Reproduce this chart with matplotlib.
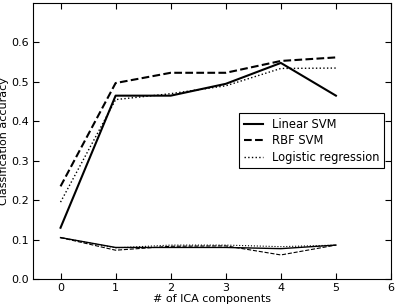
import matplotlib
matplotlib.use('Agg')
import matplotlib.pyplot as plt

# number of ICA components
n_comp = [0, 1, 2, 3, 4, 5]

# mean accuracy
linear_svm = [0.130, 0.465, 0.465, 0.495, 0.548, 0.465]
rbf_svm = [0.235, 0.497, 0.523, 0.523, 0.553, 0.562]
logreg = [0.195, 0.455, 0.470, 0.490, 0.534, 0.535]

# spread (lower curves)
linear_std = [0.105, 0.080, 0.080, 0.080, 0.077, 0.086]
rbf_std = [0.105, 0.073, 0.083, 0.084, 0.061, 0.086]
logreg_std = [0.105, 0.079, 0.086, 0.086, 0.082, 0.086]

fig = plt.figure(figsize=(3.97, 3.05), dpi=100)
ax = fig.add_axes([33 / 397, 1 - 279 / 305, 358 / 397, 276 / 305])

ax.plot(n_comp, linear_svm, 'k-', lw=1.5, label='Linear SVM')
ax.plot(n_comp, rbf_svm, 'k--', lw=1.5, label='RBF SVM')
ax.plot(n_comp, logreg, 'k:', lw=1.0, label='Logistic regression')

ax.plot(n_comp, linear_std, 'k-', lw=1.0)
ax.plot(n_comp, rbf_std, 'k--', lw=0.8)
ax.plot(n_comp, logreg_std, 'k:', lw=0.8)

ax.set_xlim(-0.5, 6)
ax.set_ylim(0, 0.7)
ax.set_xticks(range(0, 7))
ax.set_yticks([0.0, 0.1, 0.2, 0.3, 0.4, 0.5, 0.6])
ax.tick_params(direction='in', top=True, right=True, labelsize=8, length=4, pad=3)
ax.set_xlabel('# of ICA components', fontsize=8, labelpad=0.5)
ax.set_ylabel('Classification accuracy', fontsize=8, labelpad=1.5)

leg = ax.legend(loc='upper right', bbox_to_anchor=(0.980, 0.601), borderaxespad=0,
                fontsize=8.3, fancybox=False, framealpha=1, edgecolor='k',
                handlelength=1.6, handletextpad=0.8, labelspacing=0.3, borderpad=0.4)
leg.get_frame().set_linewidth(0.8)

plt.savefig('out.png', dpi=100)
